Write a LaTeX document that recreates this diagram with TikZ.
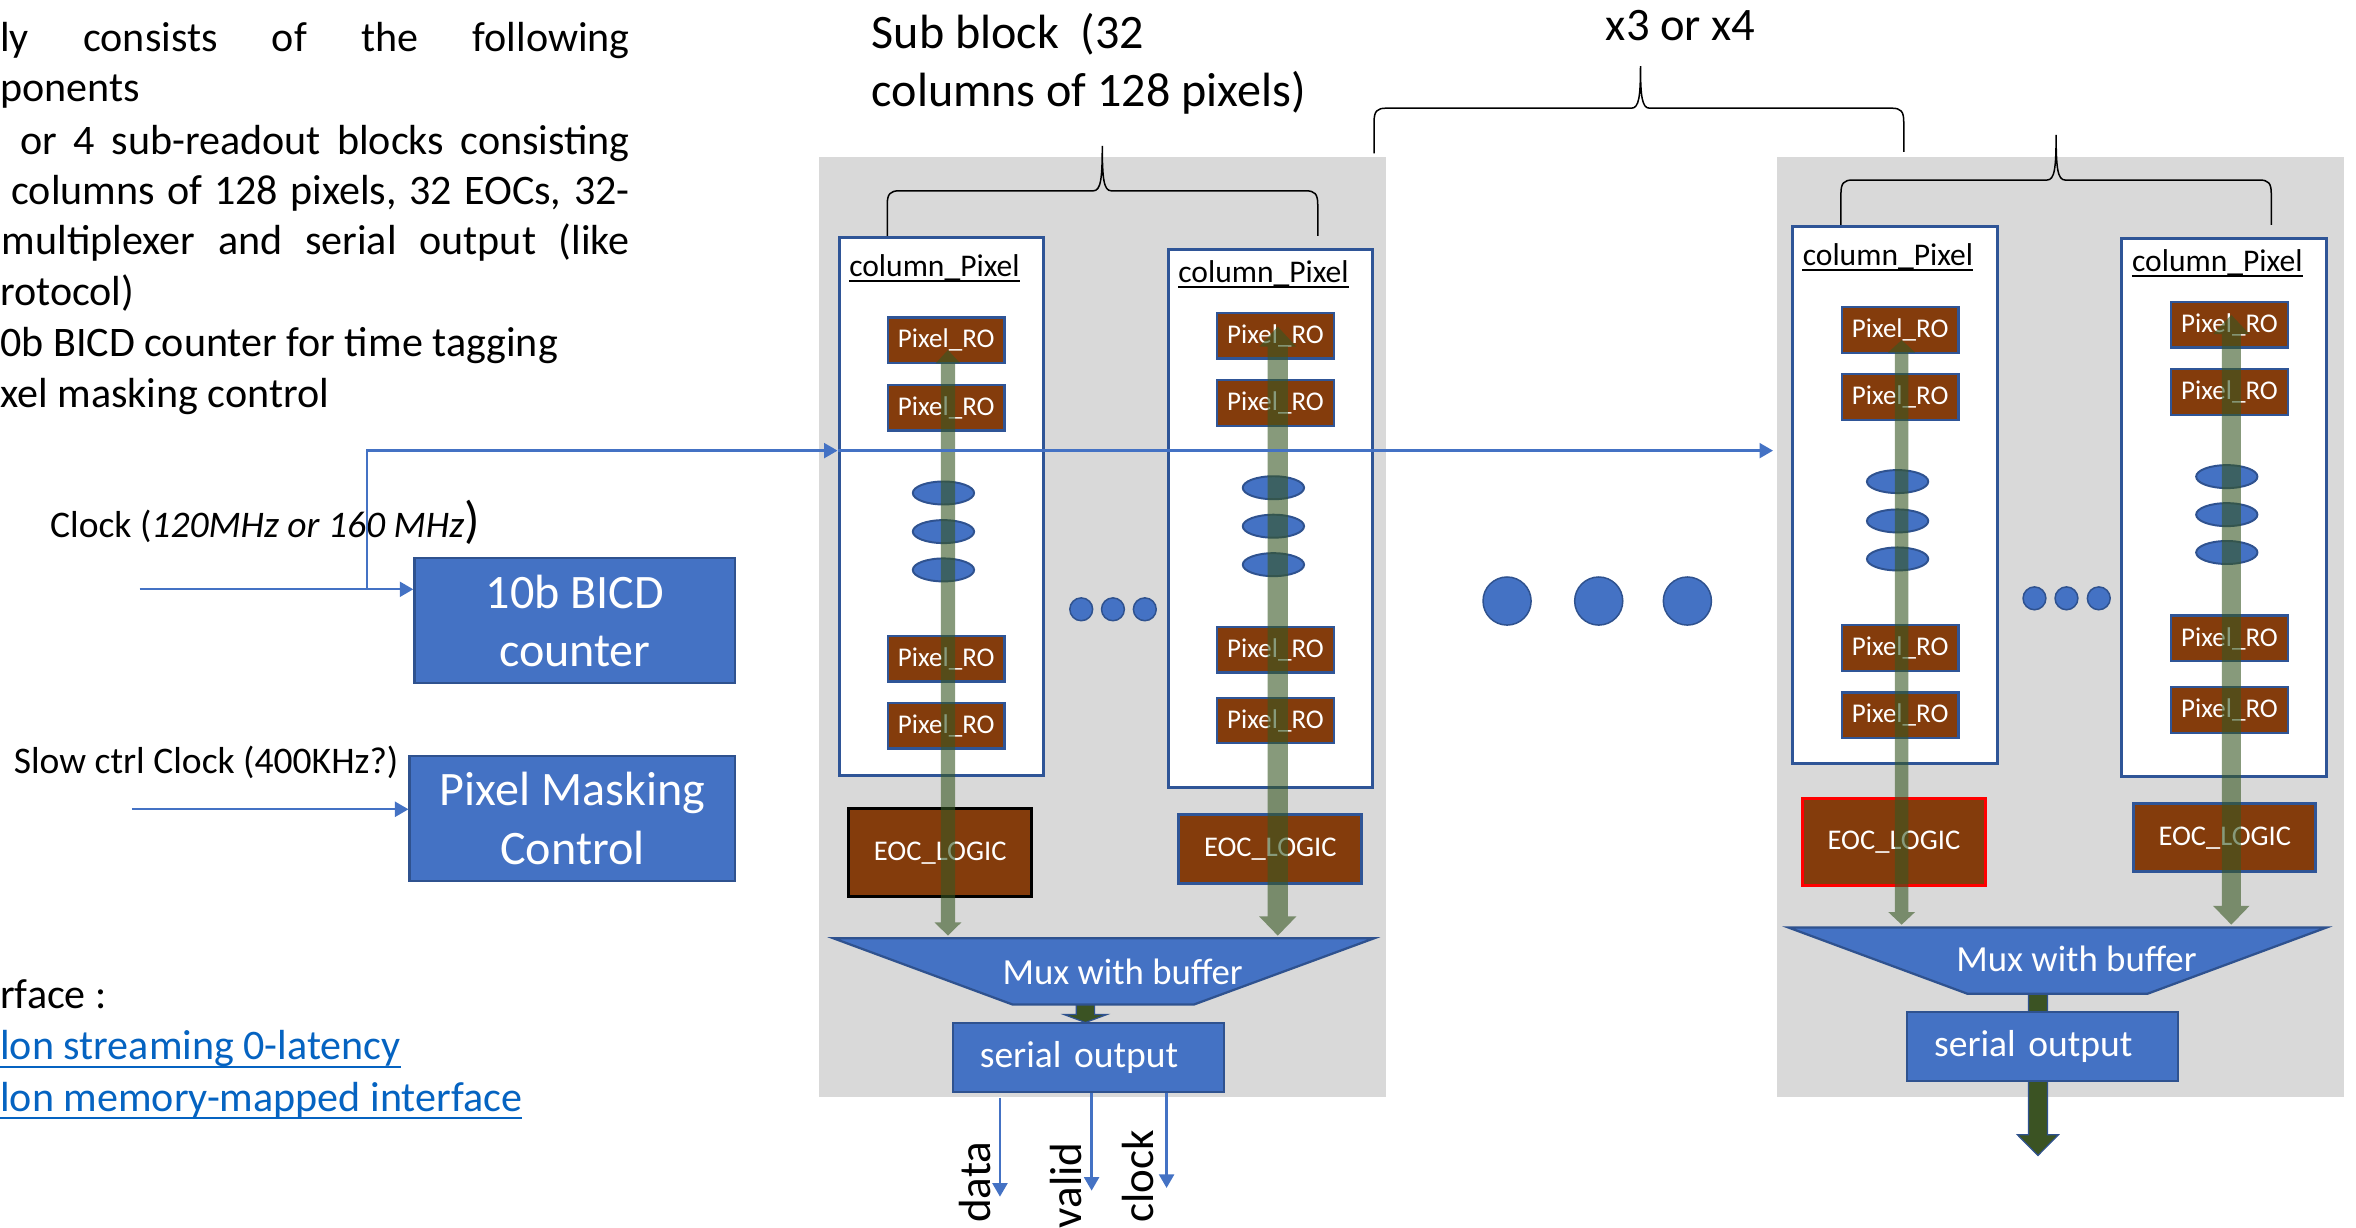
\documentclass[tikz,border=0pt]{standalone}
\usepackage{fontspec}
\setmainfont{Carlito}
\usetikzlibrary{arrows.meta,shapes.geometric,calc}
\definecolor{bfill}{HTML}{4472C4}
\definecolor{bline}{HTML}{2F528F}
\definecolor{cline}{HTML}{2F5597}
\definecolor{brownro}{HTML}{843C0C}
\definecolor{graybg}{HTML}{D9D9D9}
\definecolor{linkblue}{HTML}{0563C1}
\definecolor{dgreen}{HTML}{385723}
\definecolor{darrow}{HTML}{3B5323}
\newcommand\fsz[2]{\fontsize{#1}{#2}\selectfont}
% brace: xL, yB(left), yH, xM, yT, xR, yB(right)
\newcommand\bracepath[7]{%
  \draw[bracestyle] (#1,#2) -- (#1,#3+9) .. controls (#1,#3+2) and (#1+2,#3) .. (#1+8,#3)
    -- (#4-6,#3) .. controls (#4-1,#3) and (#4,#3-8) .. (#4,#5)
    .. controls (#4,#3-8) and (#4+1,#3) .. (#4+6,#3)
    -- (#6-8,#3) .. controls (#6-2,#3) and (#6,#3+2) .. (#6,#3+9) -- (#6,#7);}
% fat arrow: style, top tip, bottom tip, shaft hw, top head hw, top head len, bottom head hw, bottom head len
\newcommand\dblarrow[8]{%
  \path[#1] ($(#2)+(-#5,#6)$) -- (#2) -- ($(#2)+(#5,#6)$) -- ($(#2)+(#4,#6)$)
    -- ($(#3)+(#4,-#8)$) -- ($(#3)+(#7,-#8)$) -- (#3) -- ($(#3)+(-#7,-#8)$)
    -- ($(#3)+(-#4,-#8)$) -- ($(#2)+(-#4,#6)$) -- cycle;}
\begin{document}
\begin{tikzpicture}[x=1pt,y=-1pt,
 txt/.style={inner sep=0pt,anchor=base west,font=\fsz{28}{34}},
 bluebox/.style={draw=bline,line width=1.5pt,fill=bfill,text=white,inner sep=0pt,align=center,font=\fsz{32}{39}},
 colbox/.style={draw=cline,line width=2pt,fill=white,inner sep=0pt},
 coltitle/.style={inner sep=0pt,anchor=base west,font=\fsz{21}{25}},
 pixro/.style={draw=cline,line width=1.5pt,fill=brownro,text=white,minimum width=77.5pt,minimum height=30.4pt,inner sep=0pt,font=\fsz{18}{22}},
 eocbox/.style={fill=brownro,text=white,inner sep=0pt,line width=2pt,font=\fsz{19}{23}},
 dotell/.style={ellipse,draw=bline,line width=1.3pt,fill=bfill,minimum width=40.8pt,minimum height=15.3pt,inner sep=0pt},
 sdot/.style={circle,draw=bline,line width=1pt,fill=bfill,minimum size=15.2pt,inner sep=0pt},
 bdot/.style={circle,draw=bline,line width=1pt,fill=bfill,minimum size=32pt,inner sep=0pt},
 thinarr/.style={draw=bfill,line width=1.5pt,-{Triangle[length=9pt,width=10pt]}},
 bracestyle/.style={draw=black,line width=1pt},
 greenarr/.style={fill=dgreen,fill opacity=0.6},
 darkarr/.style={fill=darrow,draw=bline,line width=0.8pt},
 muxshape/.style={fill=bfill,draw=bline,line width=1.5pt},
 muxtxt/.style={inner sep=0pt,anchor=base,text=white,font=\fsz{24.5}{30}},
 serbox/.style={draw=bline,line width=1.5pt,fill=bfill,text=white,inner ysep=0pt,inner xsep=17.8pt,text width=144.7pt,minimum height=45.8pt,align=left,font=\fsz{25}{30}},
 linktxt/.style={txt,text=linkblue},
 rot/.style={inner sep=0pt,anchor=base west,rotate=90,font=\fsz{30}{36}}
]
\useasboundingbox (0,0) rectangle (1568,817);

% ---------- left text ----------
\node[txt] (t1) at (0,34.4) {\makebox[419pt][s]{ly consists of the following}};
\node[txt] (t2) at (0,67.7) {ponents};
\node[txt] (t3) at (13.4,102.5) {\makebox[405.6pt][s]{or 4 sub-readout blocks consisting}};
\node[txt] (t4) at (7.4,135.8) {\makebox[411.6pt][s]{columns of 128 pixels, 32 EOCs, 32-}};
\node[txt] (t5) at (1,169.7) {\makebox[418pt][s]{multiplexer and serial output (like}};
\node[txt] (t6) at (0,203) {rotocol)};
\node[txt] (t7) at (0,237.4) {0b BICD counter for time tagging};
\node[txt] (t8) at (0,271.1) {xel masking control};

\node[txt] (if0) at (0,671) {rface :};
\node[linktxt] (lk1) at (0,705.4) {lon streaming 0-latency};
\node[linktxt] (lk2) at (0,739.8) {lon memory-mapped interface};
\draw[linkblue,line width=1.3pt] ($(lk1.base west)+(0,4.9)$) -- ($(lk1.base east)+(0,4.9)$);
\draw[linkblue,line width=1.3pt] ($(lk2.base west)+(0,4.5)$) -- ($(lk2.base east)+(0,4.5)$);

\node[txt,font=\fsz{25}{30}] (clklbl) at (33.2,357.6) {Clock (\textit{120MHz or 160 MHz}{\fsz{34}{40})}};
\node[txt,font=\fsz{25}{30}] (slowlbl) at (9,515.1) {Slow ctrl Clock (400KHz?)};

\node[bluebox,minimum width=213.6pt,minimum height=83.2pt] (bicd) at (382.6,413.2) {10b BICD\\counter};
\node[bluebox,minimum width=216.8pt,minimum height=83pt] (pmc) at (381,544.6) {Pixel Masking\\Control};

% ---------- titles ----------
\node[txt,font=\fsz{32}{39}] (sub1) at (580,32) {Sub block~~(32};
\node[txt,font=\fsz{32}{39}] (sub2) at (580,71) {columns of 128 pixels)};
\node[inner sep=0pt,anchor=base,font=\fsz{31}{38}] (x34) at (1118.5,27) {x3 or x4};

% ---------- gray sub-blocks ----------
\fill[graybg] (545.1,104.3) rectangle (922.1,730);
\fill[graybg] (1182.6,104.3) rectangle (1559.7,730);

% ---------- braces ----------
\bracepath{590.5}{157}{127}{733.6}{97}{877}{157}
\bracepath{914.5}{102}{72}{1091.8}{44}{1267}{101}
\bracepath{1225.2}{149.7}{119.8}{1368.4}{89.8}{1511.6}{149.7}

% ---------- column boxes ----------
\node[colbox,minimum width=136pt,minimum height=357.8pt] (cl1) at (626.4,336.9) {};
\node[colbox,minimum width=136pt,minimum height=358pt] (cl2) at (845.7,345) {};
\node[colbox,minimum width=136.4pt,minimum height=357.5pt] (cl3) at (1261.2,329.65) {};
\node[colbox,minimum width=136.1pt,minimum height=358.1pt] (cl4) at (1480.25,337.85) {};

\node[coltitle] (ct1) at (565,183.7) {column\_Pixel};
\node[coltitle] (ct2) at (784,188.1) {column\_Pixel};
\node[coltitle] (ct3) at (1199.6,176.4) {column\_Pixel};
\node[coltitle] (ct4) at (1418.8,180.8) {column\_Pixel};
\foreach \n in {ct1,ct2,ct3,ct4}
  \draw[black,line width=1.2pt] ($(\n.base west)+(0,3.1)$) -- ($(\n.base east)+(0,3.1)$);

% ---------- pixel readouts ----------
\foreach \y [count=\i] in {226.5,271.3,438.3,482.9}
  \node[pixro] (a\i) at (629.8,\y) {Pixel\_RO};
\foreach \y [count=\i] in {223.4,268.2,432.4,479.5}
  \node[pixro] (b\i) at (848.9,\y) {Pixel\_RO};
\foreach \y [count=\i] in {219.5,264.3,431.3,476}
  \node[pixro] (c\i) at (1264.6,\y) {Pixel\_RO};
\foreach \y [count=\i] in {216.1,260.9,424.9,472.5}
  \node[pixro] (d\i) at (1483.8,\y) {Pixel\_RO};

% ---------- ellipses ----------
\foreach \y [count=\i] in {328.1,353.8,379.3}
  \node[dotell] (ea\i) at (627.9,\y) {};
\foreach \y [count=\i] in {324.6,350.2,375.8}
  \node[dotell] (eb\i) at (847.5,\y) {};
\foreach \y [count=\i] in {320.5,346.7,372}
  \node[dotell] (ec\i) at (1262.9,\y) {};
\foreach \y [count=\i] in {317.2,342.5,367.7}
  \node[dotell] (ed\i) at (1482,\y) {};

% ---------- dots ----------
\foreach \x [count=\i] in {719.6,740.7,761.9}
  \node[sdot] (sa\i) at (\x,405.5) {};
\foreach \x [count=\i] in {1354,1375.3,1396.8}
  \node[sdot] (sb\i) at (\x,398.2) {};
\foreach \x [count=\i] in {1003,1064,1123}
  \node[bdot] (bd\i) at (\x,400) {};

% ---------- EOC logic ----------
\node[eocbox,draw=black,minimum width=121.5pt,minimum height=58.2pt] (e1) at (625.75,567.5) {EOC\_LOGIC};
\node[eocbox,draw=cline,minimum width=121.7pt,minimum height=45.8pt] (e2) at (845.45,564.8) {EOC\_LOGIC};
\node[eocbox,draw=red,minimum width=121.8pt,minimum height=57.8pt] (e3) at (1260.5,560.2) {EOC\_LOGIC};
\node[eocbox,draw=cline,minimum width=121.2pt,minimum height=45.5pt] (e4) at (1480.7,557.55) {EOC\_LOGIC};

% ---------- dark output arrows ----------
\coordinate (k1t) at (722.4,667);
\coordinate (k1b) at (722.4,680.5);
\coordinate (k2t) at (1356.3,660);
\coordinate (k2b) at (1356.3,769);
\dblarrow{darkarr}{k1t}{k1b}{6.1}{6.1}{0}{14.3}{5.3}
\dblarrow{darkarr}{k2t}{k2b}{6.3}{6.3}{0}{13.7}{13.8}

% ---------- mux ----------
\draw[muxshape] (554.8,624.5) -- (914.4,624.5) -- (794.7,668.5) -- (673.8,668.5) -- cycle;
\node[muxtxt] (mux1) at (747.2,655.2) {Mux with buffer};
\draw[muxshape] (1190.3,617.3) -- (1548.3,617.3) -- (1429.4,661.3) -- (1309.2,661.3) -- cycle;
\node[muxtxt] (mux2) at (1382,646.8) {Mux with buffer};

% ---------- serial output ----------
\node[serbox] (ser1) at (724.45,703.8) {serial output};
\node[serbox] (ser2) at (1359.55,696.55) {serial output};

% ---------- green data-flow arrows ----------
\coordinate (g1t) at (630.9,232.9);  \coordinate (g1b) at (630.9,622.7);
\coordinate (g2t) at (850.4,217.4);  \coordinate (g2b) at (850.4,622.7);
\coordinate (g3t) at (1265.6,226.3); \coordinate (g3b) at (1265.6,615.4);
\coordinate (g4t) at (1485,209.6);   \coordinate (g4b) at (1485,615.4);
\dblarrow{greenarr}{g1t}{g1b}{4.75}{8.3}{9}{8.9}{8.8}
\dblarrow{greenarr}{g2t}{g2b}{6.7}{12.3}{13.3}{12.4}{12.8}
\dblarrow{greenarr}{g3t}{g3b}{4.5}{9.1}{8.4}{8.9}{8.4}
\dblarrow{greenarr}{g4t}{g4b}{6.3}{12}{12.7}{12.2}{12.6}

% ---------- serial outputs: data / valid / clock ----------
\coordinate (dT) at (665.5,796.4);
\coordinate (vT) at (726.5,792.4);
\coordinate (cT) at (776.4,790.6);
\draw[thinarr] (ser1.south -| dT) ++(0,3.2) -- (dT);
\draw[thinarr] (ser1.south -| vT) -- (vT);
\draw[thinarr] (ser1.south -| cT) -- (cT);
\node[rot] (ldata) at (659,814) {data};
\node[rot] (lvalid) at (720,817.5) {valid};
\node[rot] (lclock) at (768,814) {clock};

% ---------- clock distribution ----------
\coordinate (clkin) at (92.9,392.2);
\coordinate (clkbr) at (244.2,392.2);
\coordinate (clktop) at (244.2,299.9);
\coordinate (clkend) at (1180,299.9);
\coordinate (slowin) at (87.7,538.6);
\draw[thinarr] (clkin) -- (bicd.west |- clkin);
\draw[thinarr] (clkbr) -- (clktop) -- (cl1.west |- clktop);
\draw[thinarr] (cl1.west |- clktop) -- (clkend);
\draw[thinarr] (slowin) -- (pmc.west |- slowin);
\end{tikzpicture}
\end{document}
